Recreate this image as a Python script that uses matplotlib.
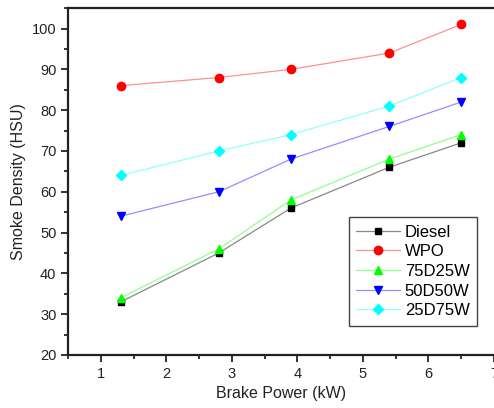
#!/usr/bin/env python3

import matplotlib
matplotlib.use("Agg")
import matplotlib.pyplot as plt
import matplotlib.ticker as ticker

power = [1.3, 2.8, 3.9, 5.4, 6.5]
diesel = [33, 45, 56, 66, 72]
wpo = [86, 88, 90, 94, 101]
d75w25 = [34, 46, 58, 68, 74]
d50w50 = [54, 60, 68, 76, 82]
d25w75 = [64, 70, 74, 81, 88]

series = [
    ("Diesel", diesel, "#000000", "#888888", "s"),
    ("WPO", wpo, "#ff0000", "#ff9090", "o"),
    ("75D25W", d75w25, "#00ff00", "#90ff90", "^"),
    ("50D50W", d50w50, "#0000ff", "#9090ff", "v"),
    ("25D75W", d25w75, "#00ffff", "#90ffff", "D"),
]


def draw(filename):
    plt.rcParams['font.family'] = 'sans-serif'
    plt.rcParams['font.sans-serif'] = ['Liberation Sans']
    fig = plt.figure(figsize=(4.94, 4.08), dpi=100)
    ax = fig.add_axes([0.138, 0.130, 0.862, 0.850])

    for name, y, mcol, lcol, mk in series:
        ms = 5 if mk in ("D", "s") else 6
        ax.plot(power, y, '-', marker=mk, color=lcol, linewidth=0.9,
                markerfacecolor=mcol, markeredgecolor=mcol, markersize=ms,
                label=name)

    ax.set_xlim(0.5, 7)
    ax.set_ylim(20, 105)
    ax.xaxis.set_major_locator(ticker.MultipleLocator(1))
    ax.xaxis.set_minor_locator(ticker.MultipleLocator(0.5))
    ax.yaxis.set_major_locator(ticker.MultipleLocator(10))
    ax.yaxis.set_minor_locator(ticker.MultipleLocator(5))
    ax.tick_params(which='major', direction='out', length=5, width=1.3,
                   labelsize=10.5, colors='#222222')
    ax.tick_params(which='minor', direction='out', length=3, width=1.1)
    for s in ax.spines.values():
        s.set_linewidth(1.6)
        s.set_color('#222222')
    ax.spines['right'].set_visible(False)

    ax.set_xlabel("Brake Power (kW)", fontsize=11.5, color='#222222')
    ax.set_ylabel("Smoke Density (HSU)", fontsize=11.5, color='#222222')

    leg = ax.legend(loc='lower right', bbox_to_anchor=(0.98, 0.06),
                    fontsize=12, fancybox=False, framealpha=1,
                    edgecolor='#444444', handlelength=2.6,
                    borderpad=0.45, labelspacing=0.28, handletextpad=0.3)
    leg.get_frame().set_linewidth(1.0)

    fig.savefig(filename, dpi=100)


if __name__ == "__main__":
    draw('out.png')
